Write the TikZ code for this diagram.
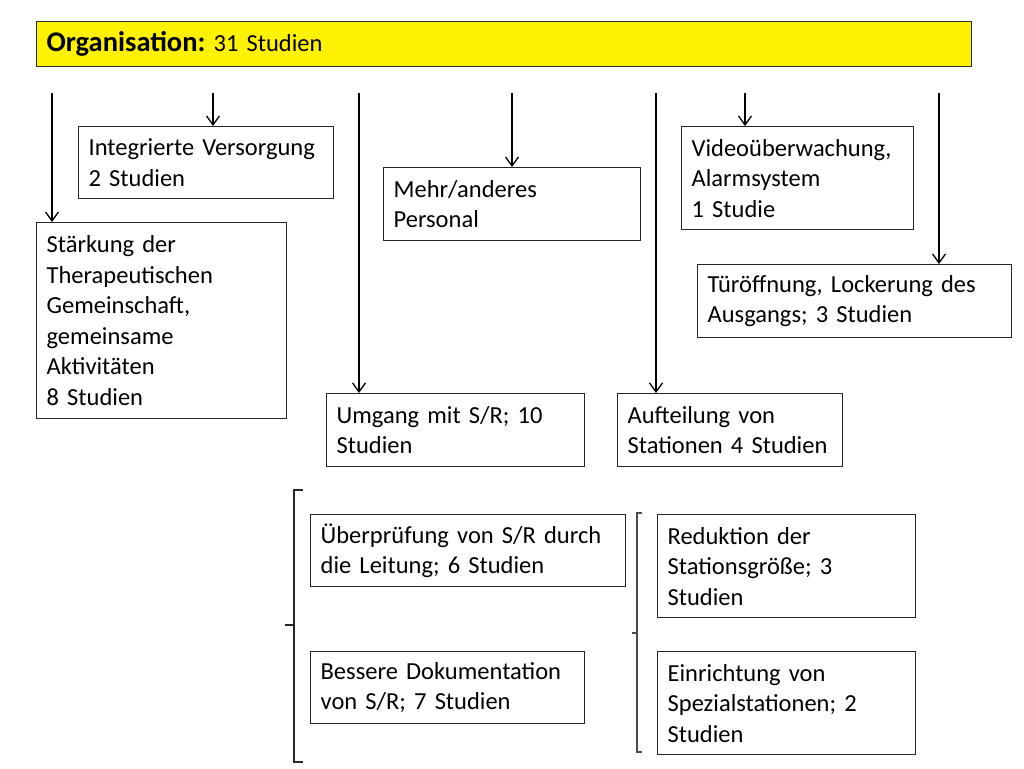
\documentclass[tikz,border=0pt]{standalone}
\usepackage{fontspec}
\setmainfont{Carlito}
\usetikzlibrary{arrows.meta}
\frenchspacing
\begin{document}
\begin{tikzpicture}[x=1pt,y=-1pt,
  box/.style={draw=black!85, line width=1.3pt, anchor=north west, align=left, inner xsep=10pt, inner ysep=0pt,
    font=\fontsize{24.5}{30.5}\selectfont},
  arr/.style={line width=1.3pt, -{Straight Barb[length=9pt,width=13pt,line width=1.3pt]}},
  brk/.style={line width=1.3pt, black!85}]
\useasboundingbox (0,0) rectangle (1024,768);
\fill[white] (0,0) rectangle (1024,768);
% top box
\node[box, fill=yellow, minimum width=935pt, minimum height=45pt, text width=915pt] (top) at (36,21)
  {{\fontsize{28.5}{34}\selectfont\textbf{Organisation:}} 31 Studien};
\node[box, minimum width=255pt, minimum height=72pt, text width=235pt] (iv) at (78,126)
  {Integrierte Versorgung\\2 Studien};
\node[box, minimum width=250pt, minimum height=196pt, text width=230pt] (st) at (36,222)
  {Stärkung der\\Therapeutischen\\Gemeinschaft,\\gemeinsame\\Aktivitäten\\8 Studien};
\node[box, minimum width=257pt, minimum height=73pt, text width=237pt] (mp) at (383,167)
  {Mehr/anderes\\Personal};
\node[box, minimum width=232pt, minimum height=103pt, text width=212pt] (vu) at (681,126)
  {Videoüberwachung,\\Alarmsystem\\1 Studie};
\node[box, minimum width=314pt, minimum height=73pt, text width=294pt] (to) at (697,264)
  {Türöffnung, Lockerung des\\Ausgangs; 3 Studien};
\node[box, minimum width=258pt, minimum height=73pt, text width=238pt] (um) at (326,393)
  {Umgang mit S/R; 10\\Studien};
\node[box, minimum width=225pt, minimum height=73pt, text width=205pt] (au) at (617,393)
  {Aufteilung von\\Stationen 4 Studien};
\node[box, minimum width=315pt, minimum height=72pt, text width=295pt] (ue) at (310,514)
  {Überprüfung von S/R durch\\die Leitung; 6 Studien};
\node[box, minimum width=274pt, minimum height=72pt, text width=254pt] (bd) at (310,651)
  {Bessere Dokumentation\\von S/R; 7 Studien};
\node[box, minimum width=258pt, minimum height=103pt, text width=238pt] (rd) at (657,514)
  {Reduktion der\\Stationsgröße; 3\\Studien};
\node[box, minimum width=258pt, minimum height=103pt, text width=238pt] (ei) at (657,651)
  {Einrichtung von\\Spezialstationen; 2\\Studien};
% arrow starts
\coordinate (a1) at (52,93);
\coordinate (a2) at (213,93);
\coordinate (a3) at (359,93);
\coordinate (a4) at (512,93);
\coordinate (a5) at (656,93);
\coordinate (a6) at (745,93);
\coordinate (a7) at (939,93);
\draw[arr] (a1) -- (a1 |- st.north);
\draw[arr] (a2) -- (a2 |- iv.north);
\draw[arr] (a3) -- (a3 |- um.north);
\draw[arr] (a4) -- (a4 |- mp.north);
\draw[arr] (a5) -- (a5 |- au.north);
\draw[arr] (a6) -- (a6 |- vu.north);
\draw[arr] (a7) -- (a7 |- to.north);
% brackets
\draw[brk] (303,490) -- (294,490) -- (294,762) -- (303,762);
\draw[brk] (285,625) -- (294,625);
\draw[brk, black!70] (642,513) -- (637,513) -- (637,752) -- (642,752);
\draw[brk, black!70] (632,633) -- (637,633);
\end{tikzpicture}
\end{document}
